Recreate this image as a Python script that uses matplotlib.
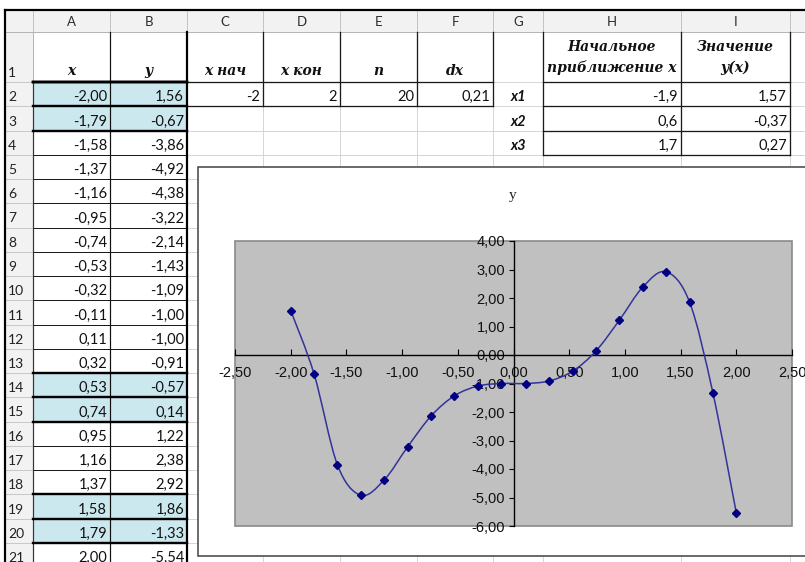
import numpy as np
import matplotlib
matplotlib.use("Agg")
import matplotlib.pyplot as plt
from matplotlib.patches import Rectangle, PathPatch
from matplotlib.path import Path
from matplotlib.ticker import FixedLocator, FuncFormatter

# ---------------- data ----------------
x_vals = [-2.00, -1.79, -1.58, -1.37, -1.16, -0.95, -0.74, -0.53, -0.32, -0.11,
          0.11, 0.32, 0.53, 0.74, 0.95, 1.16, 1.37, 1.58, 1.79, 2.00]
y_vals = [1.56, -0.67, -3.86, -4.92, -4.38, -3.22, -2.14, -1.43, -1.09, -1.00,
          -1.00, -0.91, -0.57, 0.14, 1.22, 2.38, 2.92, 1.86, -1.33, -5.54]
col_letters = ["A", "B", "C", "D", "E", "F", "G", "H", "I"]
param_labels = ["x нач", "x кон", "n", "dx"]
param_values = ["-2", "2", "20", "0,21"]
root_labels = ["x1", "x2", "x3"]
root_x0 = ["-1,9", "0,6", "1,7"]
root_y = ["1,57", "-0,37", "0,27"]
highlight_groups = [(2, 3), (14, 15), (19, 20)]
x_ticks = [-2.5, -2.0, -1.5, -1.0, -0.5, 0.0, 0.5, 1.0, 1.5, 2.0, 2.5]
y_ticks = [-6, -5, -4, -3, -2, -1, 0, 1, 2, 3, 4]
chart_title = "y"

# ---------------- layout ----------------
W, H = 805, 562
col_edges = [5, 33, 110, 187, 263, 340, 417, 493, 543, 681, 790, 840]
HDR_TOP, HDR_BOT, R1_BOT, RH = 10, 32, 82, 24.25


def row_top(r):
    if r == 1:
        return HDR_BOT
    return R1_BOT + (r - 2) * RH


def row_bot(r):
    return row_top(r + 1) if r >= 1 else HDR_BOT


def fmt(v):
    return f"{v:.2f}".replace(".", ",")


fig = plt.figure(figsize=(W / 100, H / 100), dpi=100)
bg = fig.add_axes([0, 0, 1, 1])
bg.set_xlim(0, W)
bg.set_ylim(H, 0)
bg.axis("off")

PX = 0.72  # points per pixel
cell_font = "Lato"
serif_hdr = dict(family="DejaVu Serif", weight="bold", style="italic", size=10, color="#111111")

# header backgrounds
bg.add_patch(Rectangle((5, HDR_TOP), 840, HDR_BOT - HDR_TOP, facecolor="#f2f2f2", edgecolor="none"))
bg.add_patch(Rectangle((5, HDR_BOT), col_edges[1] - 5, H, facecolor="#f2f2f2", edgecolor="none"))

# highlights
for r0, r1 in highlight_groups:
    bg.add_patch(Rectangle((col_edges[1], row_top(r0)), col_edges[3] - col_edges[1],
                           row_bot(r1) - row_top(r0), facecolor="#cce8ef", edgecolor="none"))

# grid lines
for xe in col_edges[1:]:
    bg.plot([xe, xe], [HDR_BOT, H + 10], color="#d6d6d6", lw=1 * PX, zorder=1)
for r in range(1, 23):
    y = row_bot(r)
    bg.plot([col_edges[1], 840], [y, y], color="#d6d6d6", lw=1 * PX, zorder=1)
# header separators
for xe in col_edges[1:]:
    bg.plot([xe, xe], [HDR_TOP, HDR_BOT], color="#c4c4c4", lw=1 * PX, zorder=1)
bg.plot([5, 840], [HDR_BOT, HDR_BOT], color="#b5b5b5", lw=1 * PX, zorder=1)
bg.plot([col_edges[1], col_edges[1]], [HDR_BOT, H + 10], color="#b5b5b5", lw=1 * PX, zorder=1)
for r in range(1, 23):
    y = row_bot(r)
    bg.plot([5, col_edges[1]], [y, y], color="#c8c8c8", lw=1 * PX, zorder=1)

# borders A-B
xa, xb, xc = col_edges[1], col_edges[2], col_edges[3]
for r in range(2, 22):
    y = row_top(r)
    bg.plot([xa, xc], [y, y], color="#1a1a1a", lw=1 * PX, zorder=2)
for r0, r1 in [(1, 1)] + highlight_groups:
    for y in (row_bot(r0), row_top(r0) if r0 > 1 else None, row_bot(r1)):
        if y is not None:
            bg.plot([xa, xc], [y, y], color="#000000", lw=2.4 * PX, zorder=3)
bg.plot([xa, xa], [R1_BOT, H + 10], color="#333333", lw=1.2 * PX, zorder=2)
bg.plot([xb, xb], [HDR_BOT, H + 10], color="#111111", lw=1.2 * PX, zorder=2)
bg.plot([xc, xc], [HDR_BOT, H + 10], color="#000000", lw=2.2 * PX, zorder=3)

# borders C1:F2
for xe in col_edges[4:8]:
    bg.plot([xe, xe], [HDR_BOT, row_bot(2)], color="#1a1a1a", lw=1.3 * PX, zorder=2)
for y in (R1_BOT, row_bot(2)):
    bg.plot([col_edges[3], col_edges[7]], [y, y], color="#1a1a1a", lw=1.3 * PX, zorder=2)

# borders H1:I4
for xe in col_edges[8:11]:
    bg.plot([xe, xe], [HDR_BOT, row_bot(4)], color="#1a1a1a", lw=1.3 * PX, zorder=2)
for r in (1, 2, 3, 4):
    y = row_bot(r)
    bg.plot([col_edges[8], col_edges[10]], [y, y], color="#1a1a1a", lw=1.3 * PX, zorder=2)

# outer dark frame
bg.plot([5, W], [HDR_TOP, HDR_TOP], color="#000000", lw=2.2 * PX, zorder=4)
bg.plot([5, 5], [HDR_TOP, H], color="#000000", lw=2.2 * PX, zorder=4)

# column letters
for i, L in enumerate(col_letters):
    cx = (col_edges[i + 1] + col_edges[i + 2]) / 2
    bg.text(cx, 21.5, L, ha="center", va="center", family=cell_font, size=9.5, color="#2b2b2b", zorder=5)
# row numbers
for r in range(1, 22):
    bg.text(8, row_bot(r) - 5, str(r), ha="left", va="baseline", family=cell_font,
            size=10, color="#222222", zorder=5)

# row 1 headers
hdr1 = ["x", "y"] + param_labels
for i, t in enumerate(hdr1):
    cx = (col_edges[i + 1] + col_edges[i + 2]) / 2
    bg.text(cx, 75, t, ha="center", va="baseline", zorder=5, **serif_hdr)
cxH = (col_edges[8] + col_edges[9]) / 2
cxI = (col_edges[9] + col_edges[10]) / 2
bg.text(cxH, 51, "Начальное", ha="center", va="baseline", zorder=5, **serif_hdr)
bg.text(cxH, 72, "приближение x", ha="center", va="baseline", zorder=5, **serif_hdr)
bg.text(cxI, 51, "Значение", ha="center", va="baseline", zorder=5, **serif_hdr)
bg.text(cxI, 72, "y(x)", ha="center", va="baseline", zorder=5, **serif_hdr)

# A, B values
for k, (xv, yv) in enumerate(zip(x_vals, y_vals)):
    r = k + 2
    yb = row_bot(r) - 5
    bg.text(col_edges[2] - 3, yb, fmt(xv), ha="right", va="baseline", family=cell_font,
            size=10.5, color="#111111", zorder=5)
    bg.text(col_edges[3] - 3, yb, fmt(yv), ha="right", va="baseline", family=cell_font,
            size=10.5, color="#111111", zorder=5)

# params row 2
for i, t in enumerate(param_values):
    bg.text(col_edges[i + 4] - 3, row_bot(2) - 5, t, ha="right", va="baseline",
            family=cell_font, size=10.5, color="#111111", zorder=5)

# roots
cxG = (col_edges[7] + col_edges[8]) / 2
for k in range(3):
    r = k + 2
    yb = row_bot(r) - 5
    bg.text(cxG, yb, root_labels[k], ha="center", va="baseline", family=cell_font,
            weight="bold", style="italic", size=10.5, color="#111111", zorder=5)
    bg.text(col_edges[9] - 3, yb, root_x0[k], ha="right", va="baseline", family=cell_font,
            size=10.5, color="#111111", zorder=5)
    bg.text(col_edges[10] - 3, yb, root_y[k], ha="right", va="baseline", family=cell_font,
            size=10.5, color="#111111", zorder=5)

# chart area
bg.add_patch(Rectangle((198, 167), 640, 389, facecolor="white", edgecolor="#4a4a4a",
                       lw=1.6 * PX, zorder=10))
bg.text(513, 195, chart_title, ha="center", va="center", family="Liberation Serif",
        size=11, color="#222222", zorder=11)

# ---------------- plot ----------------
L, R, T, B = 235, 792, 241, 526
ax = fig.add_axes([L / W, (H - B) / H, (R - L) / W, (B - T) / H])
ax.set_facecolor("#c0c0c0")
ax.set_xlim(-2.5, 2.5)
ax.set_ylim(-6, 4)
ax.spines["top"].set_visible(False)
ax.spines["right"].set_visible(False)
ax.spines["left"].set_position(("data", 0))
ax.spines["bottom"].set_position(("data", 0))
for s in ("left", "bottom"):
    ax.spines[s].set_color("#000000")
    ax.spines[s].set_linewidth(1.0)
ax.add_patch(Rectangle((0, 0), 1, 1, transform=ax.transAxes, fill=False,
                       edgecolor="#8a8a8a", lw=1.2, clip_on=False, zorder=0.5))
ax.xaxis.set_major_locator(FixedLocator(x_ticks))
ax.yaxis.set_major_locator(FixedLocator(y_ticks))
ax.xaxis.set_major_formatter(FuncFormatter(lambda v, p: fmt(v)))
ax.yaxis.set_major_formatter(FuncFormatter(lambda v, p: fmt(v)))
ax.tick_params(axis="x", direction="in", length=4, width=0.8, pad=8, labelsize=10.5)
ax.tick_params(axis="y", direction="out", length=3.5, width=0.8, pad=2.5, labelsize=10.5)
for lab in ax.get_xticklabels() + ax.get_yticklabels():
    lab.set_family("Liberation Sans")
    lab.set_color("#111111")

# smoothed line (Bezier through the data points, Excel-style)
pts = np.column_stack([x_vals, y_vals])
n = len(pts)
verts = [pts[0]]
codes = [Path.MOVETO]
for i in range(n - 1):
    p0 = pts[i - 1] if i > 0 else pts[i]
    p1 = pts[i]
    p2 = pts[i + 1]
    p3 = pts[i + 2] if i + 2 < n else pts[i + 1]
    verts += [p1 + (p2 - p0) / 6, p2 - (p3 - p1) / 6, p2]
    codes += [Path.CURVE4] * 3
ax.add_patch(PathPatch(Path(verts, codes), facecolor="none", edgecolor="#33339a", lw=1.1, zorder=3))
ax.plot(x_vals, y_vals, linestyle="none", marker="D", ms=4.5, color="#000080", zorder=4)

fig.savefig("out.png", dpi=100)
